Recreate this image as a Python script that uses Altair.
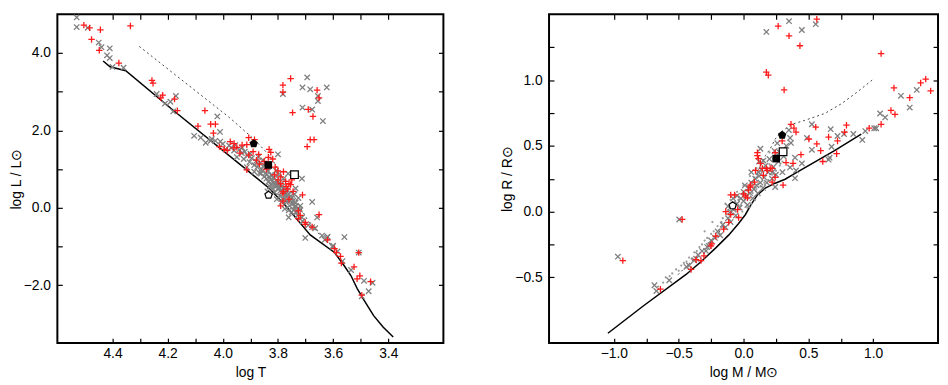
import altair as alt
import pandas as pd

FONT = "Liberation Sans"
FS = 14

# ---------------- Left panel: log L vs log T ----------------
zams_T = [4.434, 4.409, 4.352, 4.179, 3.913, 3.832, 3.772, 3.683, 3.595, 3.559, 3.535, 3.513, 3.488, 3.453, 3.418, 3.382]
zams_L = [3.794, 3.643, 3.543, 2.513, 0.980, 0.503, 0.050, -0.704, -1.156, -1.508, -1.759, -2.085, -2.387, -2.789, -3.090, -3.342]
iso_T = [4.303, 3.977, 3.885, 3.825, 3.772, 3.736, 3.690, 3.648, 3.595]
iso_L = [4.171, 2.337, 1.759, 1.307, 0.628, 0.226, -0.352, -0.704, -1.03]

gray_TL = [
    (4.53, 4.92), (4.53, 4.67), (4.49, 4.65), (4.45, 4.27), (4.44, 4.15), (4.41, 4.12), (4.42, 3.94), (4.41, 3.87),
    (4.40, 3.64), (4.36, 3.62), (4.24, 2.94), (4.21, 2.69), (4.19, 2.74), (4.17, 2.89), (4.18, 2.49), (4.08, 1.81),
    (4.04, 1.78), (4.02, 2.36), (4.01, 1.96),
    (3.694, 3.37), (3.711, 3.11), (3.683, 3.06), (3.623, 3.11), (3.782, 2.94), (3.655, 2.89), (3.655, 2.76),
    (3.711, 2.59), (3.676, 2.54), (3.637, 2.24),
    (4.044, 1.73), (4.027, 1.73), (4.009, 1.71), (3.977, 1.61), (3.959, 1.48), (3.931, 1.41), (3.924, 1.26),
    (3.903, 1.18), (3.871, 1.31), (3.854, 1.23), (3.80, 1.38), (3.886, 0.93), (3.862, 0.88), (3.798, 0.85),
    (3.826, 0.73), (3.763, 0.88), (3.713, 0.75), (3.736, 0.50), (3.676, 0.15), (3.726, -0.03), (3.713, -0.25),
    (3.665, -0.53), (3.658, -0.25),
    (3.842, 0.75), (3.835, 0.67), (3.826, 0.60), (3.815, 0.65), (3.807, 0.55), (3.80, 0.48), (3.79, 0.60),
    (3.786, 0.40), (3.78, 0.50), (3.772, 0.35), (3.765, 0.45), (3.793, 0.30), (3.78, 0.25), (3.765, 0.17),
    (3.754, 0.30), (3.747, 0.10), (3.758, 0.05), (3.743, -0.05), (3.736, 0.13), (3.798, 0.67), (3.819, 0.50),
    (3.812, 0.40), (3.83, 0.55), (3.85, 0.80), (3.867, 0.90), (3.772, 0.17), (3.75, -0.12), (3.729, -0.20),
    (3.786, 0.15), (3.804, 0.22), (3.74, 0.35), (3.726, 0.25), (3.719, 0.05), (3.761, -0.07), (3.775, -0.03),
    (3.838, 0.42), (3.822, 0.83), (3.807, 0.96), (3.78, 0.75), (3.842, 1.05), (3.886, 1.10), (3.913, 1.05),
    (3.949, 1.31), (3.99, 1.51), (4.062, 1.68), (4.104, 1.86),
    (4.00, 1.65), (3.97, 1.55), (3.955, 1.62), (3.94, 1.50), (3.93, 1.55), (3.92, 1.45), (3.91, 1.35), (3.90, 1.40),
    (3.895, 1.28), (3.88, 1.20), (3.875, 1.05), (3.865, 1.15), (3.86, 1.00), (3.855, 0.95), (3.85, 1.10),
    (3.845, 0.90), (3.84, 0.85), (3.835, 0.95), (3.83, 0.78), (3.825, 0.85), (3.82, 0.70), (3.815, 0.78),
    (3.81, 0.62), (3.805, 0.70), (3.80, 0.58), (3.795, 0.52), (3.79, 0.45), (3.785, 0.55), (3.775, 0.40),
    (3.77, 0.28), (3.76, 0.35), (3.755, 0.20), (3.75, 0.25), (3.745, 0.18), (3.74, 0.02), (3.735, 0.05),
    (3.73, -0.10), (3.72, -0.05),
    (3.711, -0.35), (3.761, -0.25), (3.676, -0.50), (3.701, -0.78), (3.623, -0.78), (3.63, -0.83), (3.559, -0.76),
    (3.602, -1.01), (3.584, -1.13), (3.507, -1.16), (3.566, -1.38), (3.535, -1.61), (3.488, -1.89), (3.457, -1.94),
    (3.471, -2.16), (3.496, -2.29), (3.736, -0.12), (3.69, -0.45), (3.64, -0.72), (3.62, -0.75), (3.60, -0.98),
]
red_TL = [
    (4.504, 4.72), (4.483, 4.65), (4.444, 4.60), (4.476, 4.35), (4.448, 4.07), (4.335, 4.70), (4.377, 3.74),
    (4.257, 3.29), (4.253, 3.22), (4.225, 2.84), (4.218, 2.91), (4.175, 2.81), (4.165, 2.51), (4.065, 2.51),
    (4.09, 2.11), (4.044, 2.16), (4.027, 2.16), (4.034, 1.93),
    (3.754, 3.34), (3.782, 3.17), (3.782, 2.99), (3.658, 3.04), (3.651, 2.84), (3.747, 2.46), (3.690, 2.54),
    (3.673, 2.36), (3.683, 1.76), (3.669, 1.76), (3.694, 1.58),
    (3.973, 1.71), (3.959, 1.66), (4.012, 1.58), (3.995, 1.51), (3.984, 1.48), (3.949, 1.56), (3.938, 1.41),
    (3.913, 1.63), (3.906, 1.81), (3.885, 1.76), (3.906, 1.36), (3.878, 1.23), (3.867, 1.13), (3.832, 1.51),
    (3.826, 1.43), (3.819, 1.26), (3.842, 1.00), (3.913, 0.98), (3.812, 0.85), (3.78, 0.93), (3.79, 0.80),
    (3.772, 0.68), (3.765, 0.48), (3.754, 0.60), (3.782, 0.38), (3.711, 0.33), (3.719, -0.20), (3.701, -0.38),
    (3.676, -0.50), (3.651, -0.18),
    (3.726, -0.08), (3.726, -0.28), (3.701, -0.43), (3.62, -0.83), (3.595, -1.06), (3.588, -1.16), (3.573, -1.26),
    (3.507, -1.16), (3.57, -1.43), (3.524, -1.53), (3.503, -1.76), (3.513, -1.84), (3.464, -1.91), (3.496, -2.26),
    (3.782, 0.17), (3.78, 0.42), (3.79, 0.05), (3.80, 0.72), (3.76, 0.22), (3.75, 0.72),
    (3.96, 1.55), (3.93, 1.62), (3.89, 1.45), (3.87, 1.38), (3.85, 1.20), (3.835, 1.30), (3.81, 1.05),
    (3.80, 0.95), (3.79, 0.62), (3.77, 0.55), (3.76, 0.62), (3.745, 0.42),
]
fpent_TL = [(3.888, 1.658)]
fsq_TL = [(3.835, 1.106)]
osq_TL = [(3.740, 0.854)]
opent_TL = [(3.834, 0.327)]

# ---------------- Right panel: log R vs log M ----------------
zams_M = [-1.046, -0.771, -0.443, -0.328, -0.214, -0.115, -0.038, 0.015, 0.053, 0.107, 0.168, 0.244, 0.321, 0.397, 0.702, 0.908]
zams_R = [-0.925, -0.716, -0.478, -0.381, -0.276, -0.179, -0.090, -0.022, 0.045, 0.127, 0.179, 0.216, 0.246, 0.291, 0.463, 0.590]
iso_M = [0.992, 0.878, 0.756, 0.626, 0.473, 0.374, 0.298, 0.244, 0.206, 0.168, 0.107, 0.015, -0.061, -0.137, -0.214, -0.29, -0.42, -0.519]
iso_R = [1.0, 0.91, 0.821, 0.746, 0.694, 0.664, 0.612, 0.552, 0.478, 0.425, 0.299, 0.149, 0.037, -0.075, -0.194, -0.27, -0.396, -0.493]

gray_MR = [
    (0.176, 1.366), (0.351, 1.448), (0.45, 1.381), (0.557, 1.425),
    (1.336, 0.925), (1.214, 0.88), (1.282, 0.791), (1.092, 0.716), (1.053, 0.746), (1.023, 0.634), (1.008, 0.634),
    (0.939, 0.612), (0.916, 0.545), (0.847, 0.59), (0.725, 0.575), (0.672, 0.627), (0.679, 0.493), (0.664, 0.41),
    (0.656, 0.395), (0.527, 0.47), (0.489, 0.56), (0.527, 0.664), (0.359, 0.56), (0.366, 0.522), (0.397, 0.41),
    (0.45, 0.366), (0.359, 0.336), (0.405, 0.313), (0.397, 0.254), (0.244, 0.187), (0.13, 0.478), (0.153, 0.388),
    (0.221, 0.299), (0.115, 0.299), (0.35, 0.62), (0.775, 0.59),
    (-0.969, -0.343), (-0.496, -0.06), (-0.687, -0.56), (-0.672, -0.604), (-0.573, -0.522), (-0.42, -0.41),
    (-0.366, -0.358), (-0.29, -0.299), (-0.267, -0.261),
    (-0.22, -0.2), (-0.2, -0.15), (-0.18, -0.18), (-0.16, -0.1), (-0.14, -0.12), (-0.12, -0.05), (-0.1, -0.08),
    (-0.1, 0.0), (-0.08, 0.02), (-0.06, -0.03), (-0.05, 0.06), (-0.03, 0.03), (-0.02, 0.1), (0.0, 0.08),
    (0.0, 0.15), (0.02, 0.12), (0.03, 0.05), (0.04, 0.18), (0.05, 0.14), (0.06, 0.22), (0.07, 0.1), (0.08, 0.17),
    (0.09, 0.25), (0.1, 0.2), (0.11, 0.14), (0.12, 0.27), (0.13, 0.22), (0.14, 0.32), (0.15, 0.18), (0.16, 0.26),
    (0.17, 0.35), (0.18, 0.22), (0.19, 0.3), (0.2, 0.4), (0.22, 0.25), (0.23, 0.34), (0.25, 0.28), (0.27, 0.38),
    (0.28, 0.45), (0.3, 0.3), (0.31, 0.42), (0.33, 0.5), (0.26, 0.52), (0.24, 0.46), (-0.25, -0.22), (-0.28, -0.27),
    (-0.32, -0.3), (-0.35, -0.33), (-0.38, -0.37), (-0.44, -0.42), (-0.05, 0.12), (-0.12, 0.04), (0.01, 0.2),
    (0.06, 0.3), (0.12, 0.38), (-0.08, 0.1),
]
red_MR = [
    (0.267, 1.41), (0.351, 1.336), (0.565, 1.463), (0.435, 1.261), (0.176, 1.06), (0.191, 1.037), (0.313, 0.925),
    (1.061, 1.201),
    (1.405, 1.007), (1.366, 0.978), (1.443, 0.918), (1.16, 0.94), (1.282, 0.866), (1.137, 0.769), (1.168, 0.739),
    (1.061, 0.664), (0.969, 0.634), (0.779, 0.604), (0.794, 0.657), (0.725, 0.537), (0.656, 0.567), (0.718, 0.44),
    (0.611, 0.381), (0.595, 0.463), (0.565, 0.515), (0.504, 0.552), (0.557, 0.642), (0.405, 0.604), (0.389, 0.634),
    (0.366, 0.664), (0.298, 0.537), (0.443, 0.433), (0.382, 0.366), (0.328, 0.373), (0.305, 0.201),
    (0.107, 0.448), (0.115, 0.403), (0.13, 0.366), (0.176, 0.328), (0.206, 0.328), (0.153, 0.276), (0.244, 0.261),
    (0.221, 0.224), (0.092, 0.313), (0.053, 0.201), (0.038, 0.164), (-0.069, 0.127), (-0.099, 0.127),
    (0.015, 0.119), (0.0, 0.134), (0.053, 0.187), (0.084, 0.224), (0.03, 0.104), (-0.046, 0.015), (-0.137, 0.0),
    (-0.099, -0.022), (-0.115, -0.082), (-0.153, -0.134), (-0.214, -0.187), (-0.252, -0.261), (-0.328, -0.373),
    (-0.305, -0.336), (-0.244, -0.246), (-0.366, -0.366), (-0.405, -0.44), (-0.641, -0.59), (-0.473, -0.06),
    (-0.931, -0.373), (-0.038, -0.045), (0.145, 0.328), (0.183, 0.313), (0.221, 0.328), (0.107, 0.425),
    (0.244, 0.448),
]
dots_MR = [
    (-0.66, -0.57), (-0.62, -0.54), (-0.6, -0.5), (-0.57, -0.49), (-0.55, -0.47), (-0.52, -0.44), (-0.5, -0.45),
    (-0.48, -0.41), (-0.46, -0.39), (-0.44, -0.38), (-0.42, -0.35), (-0.4, -0.36), (-0.38, -0.31), (-0.36, -0.3),
    (-0.34, -0.27), (-0.32, -0.25), (-0.3, -0.22), (-0.28, -0.2), (-0.27, -0.24), (-0.25, -0.17), (-0.23, -0.15),
    (-0.22, -0.19), (-0.2, -0.11), (-0.19, -0.14), (-0.17, -0.08), (-0.16, -0.05), (-0.15, -0.12), (-0.13, -0.02),
    (-0.12, 0.01), (-0.11, -0.06), (-0.09, 0.04), (-0.07, 0.06), (-0.06, 0.0), (-0.04, 0.09), (-0.02, 0.05),
    (-0.01, 0.13), (0.01, 0.09), (0.02, 0.16), (0.04, 0.1), (0.05, 0.2), (0.07, 0.14), (0.08, 0.24), (0.1, 0.17),
    (0.11, 0.28), (0.13, 0.19), (0.14, 0.3), (0.16, 0.22), (0.17, 0.33), (0.19, 0.24), (0.2, 0.36), (0.22, 0.28),
    (0.23, 0.4), (0.25, 0.31), (0.26, 0.43), (0.28, 0.35), (0.29, 0.47), (0.3, 0.38), (-0.01, 0.0), (0.03, 0.03),
    (0.06, 0.06), (0.09, 0.09), (-0.14, 0.06), (-0.1, 0.09), (-0.05, 0.15), (0.0, 0.2), (0.05, 0.27), (0.1, 0.33),
    (0.15, 0.38), (0.2, 0.45), (-0.24, -0.08), (-0.3, -0.15),
]
fpent_MR = [(0.298, 0.582)]
fsq_MR = [(0.252, 0.403)]
osq_MR = [(0.305, 0.455)]
opent_MR = [(-0.084, 0.045)]

# axis tick values
xticks_T = [4.4, 4.3, 4.2, 4.1, 4.0, 3.9, 3.8, 3.7, 3.6, 3.5, 3.4]
yticks_L = [4, 3, 2, 1, 0, -1, -2]
xticks_M = [-1.0, -0.75, -0.5, -0.25, 0.0, 0.25, 0.5, 0.75, 1.0]
yticks_R = [-0.5, -0.25, 0.0, 0.25, 0.5, 0.75, 1.0, 1.25]

PLUS = "M-1,0L1,0M0,-1L0,1"
CROSS = "M-1,-1L1,1M-1,1L1,-1"
PENT = "M0,-1L0.951,-0.309L0.588,0.809L-0.588,0.809L-0.951,-0.309Z"


def pts(pairs):
    return pd.DataFrame(pairs, columns=["x", "y"])


def line_df(xs, ys):
    return pd.DataFrame({"x": xs, "y": ys, "i": list(range(len(xs)))})


def make_panel(zx, zy, ix, iy, gray, red, dots, fpent, fsq, osq, opent,
               xdom, xrev, ydom, xvals, yvals, xexpr, yexpr, xtitle, ytitle, width):
    xs = alt.Scale(domain=xdom, reverse=xrev, nice=False, zero=False)
    ys = alt.Scale(domain=ydom, nice=False, zero=False)
    ca = dict(domain=False, grid=False, tickSize=5, offset=-5, tickColor="black", tickWidth=1.2,
              labelFont=FONT, labelFontSize=FS, labelColor="black", labelOverlap=False,
              titleFont=FONT, titleFontSize=FS, titleColor="black", titleFontWeight="normal")
    xa = alt.Axis(orient="bottom", values=xvals, labelExpr=xexpr, labelPadding=4,
                  title=xtitle, titlePadding=5, **ca)
    ya = alt.Axis(orient="left", values=yvals, labelExpr=yexpr, labelPadding=7,
                  title=ytitle, titlePadding=0, **ca)
    xt = alt.Axis(orient="top", values=xvals, labels=False, title=None, **ca)
    yr = alt.Axis(orient="right", values=yvals, labels=False, title=None, **ca)

    def enc(ch, xaxis=None, yaxis=None, **kw):
        return ch.encode(
            x=alt.X("x:Q", scale=xs, axis=xaxis),
            y=alt.Y("y:Q", scale=ys, axis=yaxis),
            **kw,
        )

    zams = enc(alt.Chart(line_df(zx, zy)).mark_line(color="black", strokeWidth=1.5), order="i:Q")
    iso = enc(alt.Chart(line_df(ix, iy)).mark_line(color="#444444", strokeWidth=1, strokeDash=[2, 3]), order="i:Q")
    layers = [zams, iso]
    if dots:
        layers.append(enc(alt.Chart(pts(dots)).mark_point(shape="circle", filled=True, size=5,
                                                          color="#9a9a9a", opacity=1)))
    layers.append(enc(alt.Chart(pts(gray)).mark_point(shape=CROSS, filled=False, size=30,
                                                      color="#7f7f7f", strokeWidth=1.3, opacity=1),
                      xaxis=xa, yaxis=ya))
    layers.append(enc(alt.Chart(pts(red)).mark_point(shape=PLUS, filled=False, size=42,
                                                     color="#ff1a1a", strokeWidth=1.3, opacity=1),
                      xaxis=xt, yaxis=yr))
    layers.append(enc(alt.Chart(pts(fpent)).mark_point(shape=PENT, filled=True, size=80,
                                                       color="black", opacity=1)))
    layers.append(enc(alt.Chart(pts(fsq)).mark_point(shape="square", filled=True, size=60,
                                                     color="black", opacity=1)))
    layers.append(enc(alt.Chart(pts(osq)).mark_point(shape="square", filled=True, size=60,
                                                     fill="white", stroke="black", strokeWidth=1.2, opacity=1)))
    layers.append(enc(alt.Chart(pts(opent)).mark_point(shape=PENT, filled=True, size=60,
                                                       fill="white", stroke="black", strokeWidth=1.2, opacity=1)))
    return alt.layer(*layers).resolve_axis(x="independent", y="independent").properties(width=width, height=333)


left = make_panel(zams_T, zams_L, iso_T, iso_L, gray_TL, red_TL, None,
                  fpent_TL, fsq_TL, osq_TL, opent_TL,
                  [3.2, 4.6], True, [-3.5, 5.0], xticks_T, yticks_L,
                  "round(datum.value*10) % 2 == 0 ? format(datum.value, '.1f') : ''",
                  "round(datum.value) % 2 == 0 ? format(datum.value, '.1f') : ''",
                  "log T", "log L / L\u2299", 391)

right = make_panel(zams_M, zams_R, iso_M, iso_R, gray_MR, red_MR, dots_MR,
                   fpent_MR, fsq_MR, osq_MR, opent_MR,
                   [-1.5, 1.5], False, [-1.0, 1.5], xticks_M, yticks_R,
                   "round(datum.value*4) % 2 == 0 ? format(datum.value, '.1f') : ''",
                   "round(datum.value*4) % 2 == 0 ? format(datum.value, '.1f') : ''",
                   "log M / M\u2299", "log R / R\u2299", 394)

chart = alt.hconcat(left, right, spacing=55).properties(
    padding={"left": 0, "top": 0, "right": 0, "bottom": 0}
).configure_view(stroke="black", strokeWidth=2)

chart.save("out.html", embed_options={"renderer": "svg", "actions": False})
